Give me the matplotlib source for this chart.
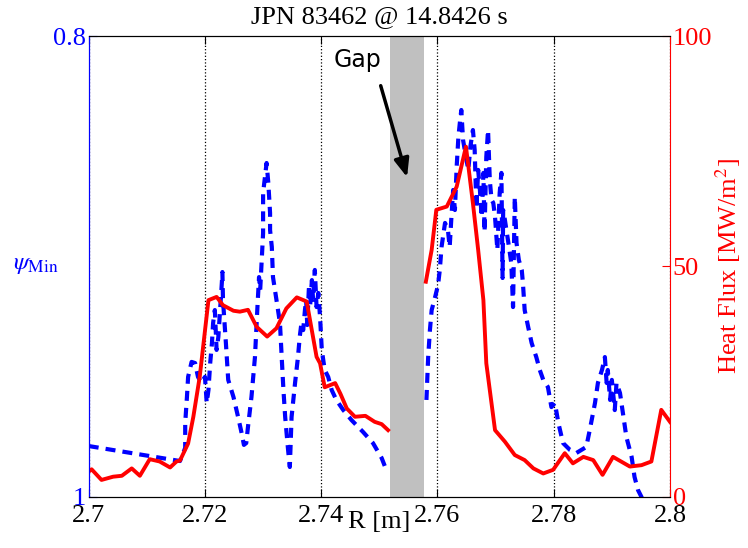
import numpy as np
import matplotlib
matplotlib.use('Agg')
import matplotlib.pyplot as plt

plt.rcParams['font.family'] = ['Liberation Serif', 'DejaVu Serif']
plt.rcParams['mathtext.fontset'] = 'stix'

# heat flux (MW/m^2), two pieces either side of the gap
r_hf1 = [2.7000, 2.7005, 2.7022, 2.7042, 2.7057, 2.7074, 2.7088, 2.7105, 2.7122,
         2.7140, 2.7151, 2.7157, 2.7171, 2.7180, 2.7191, 2.7206, 2.7220, 2.7231,
         2.7249, 2.7260, 2.7274, 2.7289, 2.7307, 2.7323, 2.7340, 2.7358, 2.7375,
         2.7392, 2.7398, 2.7406, 2.7424, 2.7433, 2.7444, 2.7458, 2.7476, 2.7492,
         2.7504, 2.7515]
hf1 = [5.5, 6.0, 3.7, 4.4, 4.6, 6.2, 4.6, 8.2, 7.7,
       6.4, 7.7, 7.9, 11.6, 17.4, 26.1, 42.7, 43.4, 41.6,
       40.4, 40.2, 40.6, 36.9, 34.8, 36.6, 40.9, 43.3, 42.4,
       30.4, 29.0, 23.8, 24.7, 22.4, 19.2, 17.4, 17.6, 16.3,
       15.8, 14.5]
r_hf2 = [2.7580, 2.7590, 2.7598, 2.7616, 2.7633, 2.7649, 2.7661, 2.7670, 2.7679,
         2.7684, 2.7699, 2.7716, 2.7733, 2.7750, 2.7765, 2.7782, 2.7799, 2.7819,
         2.7833, 2.7851, 2.7868, 2.7884, 2.7902, 2.7931, 2.7951, 2.7968, 2.7985,
         2.8000]
hf2 = [46.7, 53.6, 62.3, 63.0, 67.3, 76.0, 63.7, 53.6, 42.7,
       29.0, 14.5, 12.0, 9.1, 8.0, 6.2, 5.1, 5.9, 9.5,
       7.3, 8.7, 8.0, 4.8, 8.7, 6.6, 6.9, 7.7, 18.9,
       16.3]

# psi_min, two pieces either side of the gap
r_psi1 = [2.7000, 2.7157, 2.7166, 2.7166, 2.7169, 2.7171, 2.7177, 2.7183, 2.7188,
          2.7194, 2.7200, 2.7203, 2.7206, 2.7209, 2.7212, 2.7214, 2.7217, 2.7220,
          2.7223, 2.7226, 2.7229, 2.7230, 2.7231, 2.7236, 2.7240, 2.7249, 2.7257,
          2.7263, 2.7267, 2.7271, 2.7274, 2.7280, 2.7286, 2.7290, 2.7293, 2.7295,
          2.7300, 2.7300, 2.7306, 2.7309, 2.7312, 2.7312, 2.7315, 2.7317, 2.7323,
          2.7329, 2.7332, 2.7335, 2.7338, 2.7341, 2.7343, 2.7346, 2.7349, 2.7355,
          2.7360, 2.7363, 2.7366, 2.7369, 2.7372, 2.7374, 2.7376, 2.7379, 2.7381,
          2.7384, 2.7386, 2.7389, 2.7392, 2.7395, 2.7398, 2.7401, 2.7406, 2.7412,
          2.7418, 2.7426, 2.7438, 2.7452, 2.7472, 2.7489, 2.7504, 2.7512]
psi1 = [0.9779, 0.9844, 0.9787, 0.9679, 0.9566, 0.9479, 0.9414, 0.9419, 0.9479,
        0.9505, 0.9479, 0.9592, 0.9536, 0.9419, 0.9332, 0.9245, 0.9189, 0.9362,
        0.9306, 0.9189, 0.9072, 0.9024, 0.9145, 0.9332, 0.9492, 0.9566, 0.9653,
        0.9722, 0.9774, 0.9766, 0.9696, 0.9566, 0.9393, 0.9189, 0.9046, 0.9102,
        0.8855, 0.8681, 0.8551, 0.8638, 0.8768, 0.8842, 0.8915, 0.9046, 0.9145,
        0.9245, 0.9393, 0.9536, 0.9653, 0.9740, 0.9796, 0.9870, 0.9653, 0.9505,
        0.9393, 0.9306, 0.9245, 0.9276, 0.9189, 0.9145, 0.9254, 0.9080, 0.9167,
        0.9059, 0.9145, 0.9015, 0.9176, 0.9115, 0.9219, 0.9362, 0.9449, 0.9479,
        0.9536, 0.9579, 0.9623, 0.9666, 0.9718, 0.9766, 0.9831, 0.9883]
r_psi2 = [2.7581, 2.7584, 2.7587, 2.7590, 2.7596, 2.7601, 2.7604, 2.7607, 2.7613,
          2.7618, 2.7621, 2.7624, 2.7627, 2.7630, 2.7633, 2.7636, 2.7639, 2.7641,
          2.7644, 2.7647, 2.7653, 2.7657, 2.7661, 2.7664, 2.7667, 2.7670, 2.7673,
          2.7676, 2.7679, 2.7681, 2.7684, 2.7687, 2.7690, 2.7693, 2.7696, 2.7699,
          2.7703, 2.7707, 2.7710, 2.7712, 2.7713, 2.7716, 2.7722, 2.7727, 2.7730,
          2.7733, 2.7736, 2.7740, 2.7745, 2.7747, 2.7750, 2.7756, 2.7762, 2.7770,
          2.7776, 2.7782, 2.7790, 2.7796, 2.7802, 2.7808, 2.7816, 2.7828, 2.7839,
          2.7856, 2.7862, 2.7871, 2.7876, 2.7883, 2.7888, 2.7891, 2.7893, 2.7897,
          2.7900, 2.7905, 2.7908, 2.7914, 2.7920, 2.7925, 2.7934, 2.7939, 2.7945,
          2.7951, 2.7957]
psi2 = [0.9579, 0.9393, 0.9276, 0.9189, 0.9132, 0.9080, 0.9015, 0.8915, 0.8811,
        0.8842, 0.8915, 0.8785, 0.8668, 0.8755, 0.8568, 0.8438, 0.8364, 0.8321,
        0.8451, 0.8495, 0.8581, 0.8473, 0.8408, 0.8495, 0.8750, 0.8581, 0.8668,
        0.8785, 0.8594, 0.8850, 0.8525, 0.8408, 0.8625, 0.8711, 0.8724, 0.8785,
        0.8928, 0.8681, 0.8594, 0.9050, 0.8755, 0.8798, 0.8898, 0.8985, 0.9176,
        0.8698, 0.8898, 0.8972, 0.9015, 0.9072, 0.9189, 0.9262, 0.9332, 0.9393,
        0.9449, 0.9492, 0.9523, 0.9610, 0.9592, 0.9679, 0.9766, 0.9796, 0.9809,
        0.9783, 0.9709, 0.9592, 0.9505, 0.9449, 0.9393, 0.9505, 0.9449, 0.9579,
        0.9492, 0.9623, 0.9505, 0.9549, 0.9653, 0.9740, 0.9826, 0.9913, 0.9970,
        1.0000, 1.0060]

gap = (2.7519, 2.7577)
xticks = [2.7, 2.72, 2.74, 2.76, 2.78, 2.8]
xticklabels = ['2.7', '2.72', '2.74', '2.76', '2.78', '2.8']

fig = plt.figure(figsize=(7.48, 5.48), dpi=100)
ax = fig.add_axes([0.1186, 0.0931, 0.7771, 0.8412])
ax2 = ax.twinx()

ax.axvspan(gap[0], gap[1], color='#c0c0c0', lw=0, zorder=0)
ax.plot(r_psi1, psi1, color='b', lw=3, dashes=(2.4, 1.7))
ax.plot(r_psi2, psi2, color='b', lw=3, dashes=(2.4, 1.7))
ax2.plot(r_hf1, hf1, color='r', lw=2.8)
ax2.plot(r_hf2, hf2, color='r', lw=2.8)

ax.set_xlim(2.7, 2.8)
ax.set_ylim(1, 0.8)
ax2.set_ylim(0, 100)
ax.set_xticks(xticks)
ax.set_xticklabels(xticklabels)
ax.set_yticks([0.8, 1])
ax.set_yticklabels(['0.8', '1'])
ax2.set_yticks([0, 50, 100])
ax.xaxis.grid(True, linestyle=':', color='k', lw=0.9)

ax.tick_params(axis='x', direction='in', top=True, length=6, labelsize=19, pad=6)
ax.tick_params(axis='y', direction='in', colors='b', length=6, labelsize=19, pad=2)
ax2.tick_params(axis='y', direction='in', colors='r', length=6, labelsize=19, pad=2)
ax2.tick_params(axis='x', top=False)
ax.spines['left'].set_color('b')
ax2.spines['left'].set_color('b')
ax2.spines['right'].set_color('r')
ax.spines['right'].set_visible(False)

ax.set_title('JPN 83462 @ 14.8426 s', fontsize=19, pad=9)
ax.set_xlabel('R [m]', fontsize=19, labelpad=-12)
ax.set_ylabel(r'$\psi_{\mathrm{Min}}$', fontsize=18, color='b', rotation=0,
              ha='center', va='center')
ax.yaxis.set_label_coords(-0.092, 0.503)
ax2.set_ylabel(r'Heat Flux [MW/m$^2$]', fontsize=19, color='r', labelpad=1)

ax2.text(2.7463, 94.8, 'Gap', fontsize=17, family='DejaVu Sans', ha='center', va='center')
ax2.annotate('', xy=(2.7549, 68.8), xytext=(2.7501, 89.8),
             arrowprops=dict(arrowstyle='-|>,head_length=1.1,head_width=0.45', lw=2.5, color='k'))

plt.savefig('out.png', dpi=100)
